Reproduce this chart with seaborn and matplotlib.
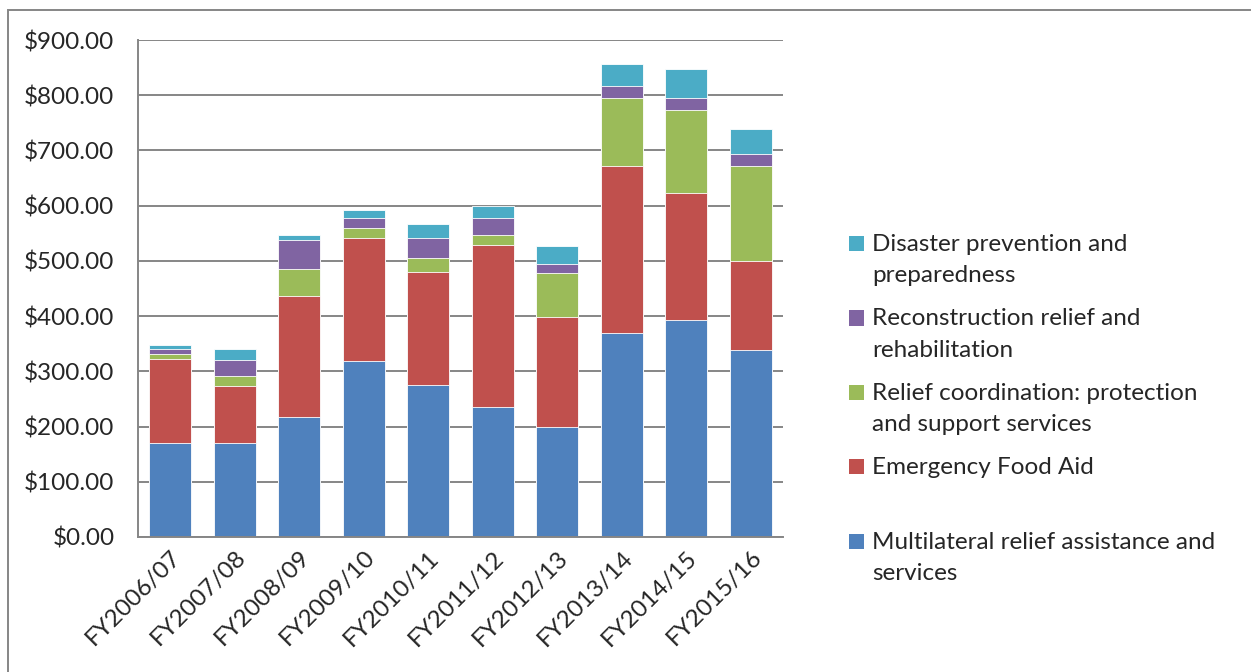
import numpy as np
import pandas as pd
import matplotlib
matplotlib.use("Agg")
import matplotlib.pyplot as plt
import matplotlib.patches as mpatches
from matplotlib.legend_handler import HandlerPatch
from matplotlib.ticker import FuncFormatter
import seaborn as sns

# values in $
years = ["FY2006/07", "FY2007/08", "FY2008/09", "FY2009/10", "FY2010/11",
         "FY2011/12", "FY2012/13", "FY2013/14", "FY2014/15", "FY2015/16"]
multilateral = [170, 170, 217, 319, 275, 235, 200, 370, 393, 339]
food_aid = [152, 104, 220, 223, 204, 294, 198, 302, 230, 161]
coordination = [10, 18, 49, 17, 26, 17, 80, 123, 150, 171]
reconstruction = [8, 28, 51, 19, 36, 32, 16, 21, 22, 23]
disaster = [8, 20, 10, 14, 26, 21, 33, 40, 52, 44]

series_names = ["Multilateral relief assistance and\nservices",
                "Emergency Food Aid\n",
                "Relief coordination: protection\nand support services",
                "Reconstruction relief and\nrehabilitation",
                "Disaster prevention and\npreparedness"]
colors = ["#4F81BD", "#C0504D", "#9BBB59", "#8064A2", "#4BACC6"]

sns.set_style("white")
plt.rcParams["font.family"] = ["Lato", "DejaVu Sans"]
FS = 17.5
GRID = "#868686"

stack = np.cumsum(np.array([multilateral, food_aid, coordination,
                            reconstruction, disaster], dtype=float), axis=0)

fig = plt.figure(figsize=(12.51, 6.72), dpi=100)
ax = fig.add_axes([138 / 1251, 1 - 537 / 672, 645 / 1251, 497 / 672])
ax.set_axisbelow(True)

# stacked bars: draw cumulative totals from the top series down
for i in range(len(series_names) - 1, -1, -1):
    df = pd.DataFrame({"year": years, "value": stack[i]})
    sns.barplot(data=df, x="year", y="value", color=colors[i], width=0.65,
                edgecolor="white", linewidth=0.6, saturation=1, ax=ax)

ax.set_ylim(0, 900)
ax.set_xlim(-0.5, len(years) - 0.5)
ax.set_yticks(np.arange(0, 901, 100))
ax.yaxis.set_major_formatter(FuncFormatter(lambda v, p: f"${v:,.2f}"))
ax.yaxis.grid(True, color=GRID, linewidth=1.4)
ax.set_xlabel("")
ax.set_ylabel("")
ax.tick_params(axis="y", length=0, pad=17, labelsize=FS)
ax.tick_params(axis="x", length=0, pad=7, labelsize=FS)
plt.setp(ax.get_xticklabels(), rotation=45, ha="right", rotation_mode="anchor")
sns.despine(ax=ax, top=True, right=True)
for s in ("left", "bottom"):
    ax.spines[s].set_color(GRID)
    ax.spines[s].set_linewidth(1.4)


def first_line_patch(legend, orig_handle, xdescent, ydescent, width, height, fontsize):
    # put the square next to the first line of a two-line label
    size = 0.62 * fontsize
    return mpatches.Rectangle((-xdescent, -ydescent + height / 2 - size / 2 + 0.68 * fontsize),
                              size, size)


handles = [mpatches.Patch(facecolor=c, edgecolor="none") for c in colors]
leg = fig.legend(handles[::-1], series_names[::-1], loc="upper left",
                 bbox_to_anchor=(827 / 1251, 1 - 212 / 672), frameon=False,
                 fontsize=FS, handlelength=0.62, handleheight=0.7, handletextpad=0.35,
                 labelspacing=0.9,
                 handler_map={mpatches.Patch: HandlerPatch(patch_func=first_line_patch)})
for t in leg.get_texts():
    t.set_linespacing(1.62)

# outer chart border
fig.patches.append(mpatches.Rectangle((8 / 1251, -0.1), 1.2, 1.1 - 10 / 672,
                                      transform=fig.transFigure, fill=False,
                                      edgecolor=GRID, linewidth=1.4))

fig.savefig("out.png", dpi=100)
